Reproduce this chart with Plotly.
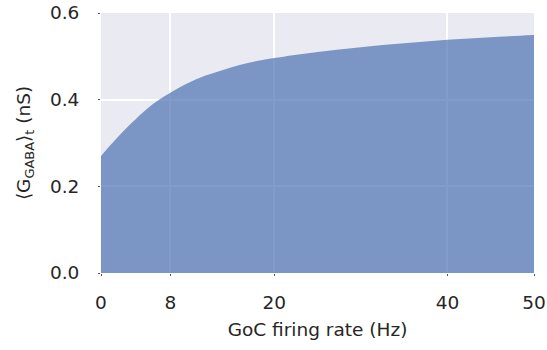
import plotly.graph_objects as go

# Mean GABA conductance vs Golgi cell firing rate
goc_rate_hz = [0, 1, 2, 3, 4, 5, 6, 7, 8, 10, 12, 14, 16, 18, 20,
               25, 30, 35, 40, 45, 50]
g_gaba_ns = [0.270, 0.293, 0.315, 0.336, 0.355, 0.373, 0.390, 0.404, 0.416,
             0.438, 0.455, 0.468, 0.480, 0.489, 0.496,
             0.510, 0.521, 0.530, 0.538, 0.544, 0.549]

x_ticks = [0, 8, 20, 40, 50]
y_ticks = [0.0, 0.2, 0.4, 0.6]
y_tick_labels = ["0.0", "0.2", "0.4", "0.6"]

font_family = "DejaVu Sans"
text_color = "#262626"
font_size = 18.5

fig = go.Figure()
fig.add_trace(go.Scatter(
    x=goc_rate_hz,
    y=g_gaba_ns,
    mode="lines",
    line=dict(width=0, shape="spline", smoothing=1.0),
    fill="tozeroy",
    fillcolor="rgba(76,114,176,0.7)",
    hoverinfo="skip",
    showlegend=False,
))

fig.update_layout(
    width=547,
    height=350,
    margin=dict(l=101, r=13, t=13, b=77),
    paper_bgcolor="white",
    plot_bgcolor="#EAEAF2",
    font=dict(family=font_family, size=font_size, color=text_color),
)

fig.update_xaxes(
    range=[0, 50],
    tickvals=x_ticks,
    ticktext=[str(v) for v in x_ticks],
    automargin=False,
    showgrid=True,
    gridcolor="white",
    gridwidth=2,
    zeroline=False,
    showline=False,
    ticks="outside",
    ticklen=2,
    tickcolor="#555555",
    tickwidth=1,
    ticklabelstandoff=11,
    tickfont=dict(size=font_size, color=text_color),
    title=dict(text="GoC firing rate (Hz)", standoff=10,
               font=dict(size=font_size, color=text_color)),
)

fig.update_yaxes(
    range=[0, 0.6],
    tickvals=y_ticks,
    ticktext=y_tick_labels,
    automargin=False,
    showgrid=True,
    gridcolor="white",
    gridwidth=2,
    zeroline=False,
    showline=False,
    ticks="outside",
    ticklen=2,
    tickcolor="#555555",
    tickwidth=1,
    ticklabelstandoff=15,
    tickfont=dict(size=font_size, color=text_color),
    title=dict(text="⟨G<sub>GABA</sub>⟩<sub>t</sub> (nS)", standoff=14,
               font=dict(size=font_size, color=text_color)),
)

fig.write_html("out.html")
